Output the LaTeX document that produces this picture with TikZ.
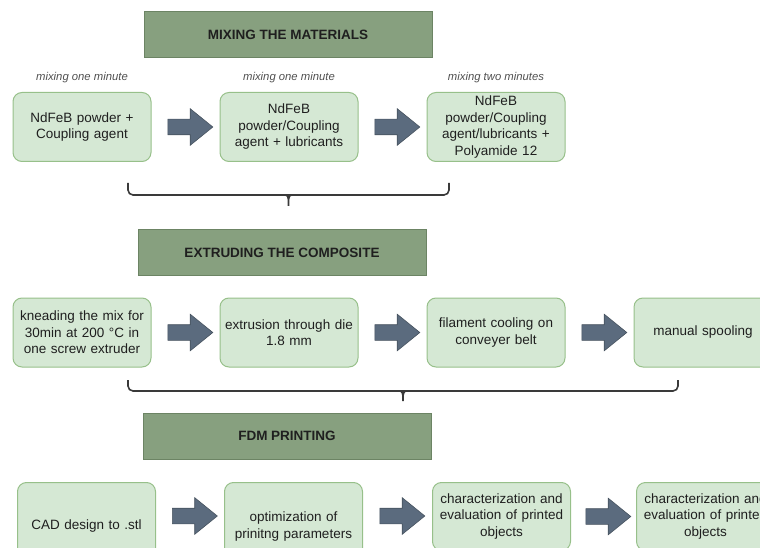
\documentclass[tikz,border=0pt]{standalone}
\usepackage{fontspec}
\setmainfont{Liberation Sans}
\usetikzlibrary{positioning,calc,shapes.arrows}

\definecolor{boxfill}{HTML}{D5E8D4}
\definecolor{boxline}{HTML}{97C08A}
\definecolor{phasefill}{HTML}{87A07F}
\definecolor{phaseline}{HTML}{6C8464}
\definecolor{arrowfill}{HTML}{5B6B7E}
\definecolor{arrowline}{HTML}{47535F}
\definecolor{notegray}{HTML}{505050}
\definecolor{bracegray}{HTML}{3A3A3A}

\begin{document}
\begin{tikzpicture}[x=1pt,y=-1pt,
  stepbox/.style={draw=boxline,fill=boxfill,rounded corners=9pt,line width=1pt,minimum width=138pt,minimum height=69pt,
    text width=128pt,align=center,inner sep=1pt,text=black!88,font=\fontsize{13.5}{16.5}\selectfont},
  phase/.style={draw=phaseline,fill=phasefill,line width=1pt,minimum width=288pt,minimum height=46pt,
    text=black!88,font=\fontsize{13.5}{16}\selectfont\bfseries},
  note/.style={inner sep=0pt,text=notegray,font=\fontsize{11.3}{13}\selectfont\itshape},
  flow/.style={single arrow,draw=arrowline,fill=arrowfill,line width=0.6pt,minimum height=45pt,minimum width=36pt,
    inner sep=7.5pt,single arrow head extend=10.5pt,single arrow tip angle=78},
  bracket/.style={draw=bracegray,line width=1.6pt,rounded corners=5pt}]

  \useasboundingbox (0,0) rectangle (760,548);
  \clip (0,0) rectangle (760,548);

  % mixing
  \node[phase] (mixing) at (288,34.5) {MIXING THE MATERIALS};

  \node[stepbox] (mix1) at (82,127) {NdFeB powder +\\Coupling agent};
  \node[stepbox,right=68pt of mix1] (mix2) {NdFeB\\powder/Coupling\\agent + lubricants};
  \node[stepbox,right=68pt of mix2] (mix3) {NdFeB\\powder/Coupling\\agent/lubricants +\\Polyamide 12};

  \node[note,above=9pt of mix1] (t1) {mixing one minute};
  \node[note,above=9pt of mix2] (t2) {mixing one minute};
  \node[note,above=9pt of mix3] (t3) {mixing two minutes};

  \node[flow] (a1) at ($(mix1.east)!0.5!(mix2.west)$) {};
  \node[flow] (a2) at ($(mix2.east)!0.5!(mix3.west)$) {};

  \coordinate (b1l) at (128,183);
  \coordinate (b1r) at (449,183);
  \coordinate (b1c) at ($(b1l)!0.5!(b1r)+(0,12)$);
  \draw[bracket] (b1l) -- ($(b1l)+(0,12)$) -- ($(b1r)+(0,12)$) -- (b1r);
  \draw[bracegray,line width=1.6pt] ($(b1c)+(-6,0)$) .. controls ($(b1c)+(-1,0)$) .. ($(b1c)+(0,5)$) -- ($(b1c)+(0,11)$)
    ($(b1c)+(6,0)$) .. controls ($(b1c)+(1,0)$) .. ($(b1c)+(0,5)$);

  % extruding
  \node[phase] (extruding) at (282,252.5) {EXTRUDING THE COMPOSITE};

  \node[stepbox] (ext1) at (82,332.5) {kneading the mix for\\30min at 200 °C in\\one screw extruder};
  \node[stepbox,right=68pt of ext1] (ext2) {extrusion through die\\1.8 mm};
  \node[stepbox,right=68pt of ext2] (ext3) {filament cooling on\\conveyer belt};
  \node[stepbox,right=68pt of ext3] (ext4) {manual spooling};

  \node[flow] (a3) at ($(ext1.east)!0.5!(ext2.west)$) {};
  \node[flow] (a4) at ($(ext2.east)!0.5!(ext3.west)$) {};
  \node[flow] (a5) at ($(ext3.east)!0.5!(ext4.west)$) {};

  \coordinate (b2l) at (128,380);
  \coordinate (b2r) at (678,380);
  \coordinate (b2c) at ($(b2l)!0.5!(b2r)+(0,11)$);
  \draw[bracket] (b2l) -- ($(b2l)+(0,11)$) -- ($(b2r)+(0,11)$) -- (b2r);
  \draw[bracegray,line width=1.6pt] ($(b2c)+(-6,0)$) .. controls ($(b2c)+(-1,0)$) .. ($(b2c)+(0,5)$) -- ($(b2c)+(0,10)$)
    ($(b2c)+(6,0)$) .. controls ($(b2c)+(1,0)$) .. ($(b2c)+(0,5)$);

  % printing
  \node[phase] (printing) at (287,436) {FDM PRINTING};

  \node[stepbox,minimum height=88pt,anchor=north] (print1) at (86.5,482) {CAD design to .stl};
  \node[stepbox,minimum height=88pt,right=68pt of print1.north east,anchor=north west] (print2) {optimization of\\prinitng parameters};
  \node[stepbox,minimum height=68pt,right=69pt of print2.north east,anchor=north west] (print3) {characterization and\\evaluation of printed\\objects};
  \node[stepbox,minimum height=68pt,right=65pt of print3.north east,anchor=north west] (print4) {characterization and\\evaluation of printed\\objects};

  \node[flow] (a6) at ($(print1.north east)!0.5!(print2.north west)+(0,34)$) {};
  \node[flow] (a7) at ($(print2.north east)!0.5!(print3.north west)+(0,34)$) {};
  \node[flow] (a8) at ($(print3.east)!0.5!(print4.west)$) {};
\end{tikzpicture}
\end{document}
